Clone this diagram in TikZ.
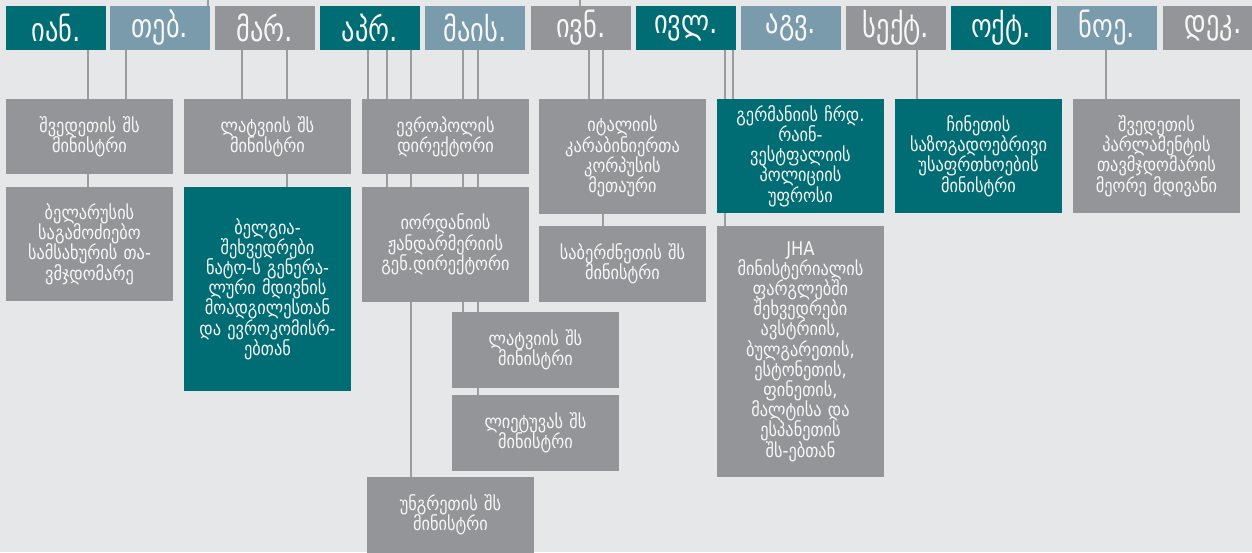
\documentclass[tikz,border=0pt]{standalone}
\usepackage{fontspec}
\setmainfont{DejaVu Sans}[FakeStretch=0.86]
\newfontfamily\monthfont{DejaVu Sans}[FakeStretch=0.8]
\newcommand{\boxfontsel}{\fontsize{19}{20.2}\selectfont\lineskiplimit=-30pt\relax\lineskip=0pt\relax}
\definecolor{bgc}{HTML}{E6E7E9}
\definecolor{teal}{HTML}{006D74}
\definecolor{bluegr}{HTML}{7A9BAC}
\definecolor{greyb}{HTML}{939598}
\definecolor{linec}{HTML}{9B9C9F}
\definecolor{txt}{HTML}{F7F7F7}
\pgfdeclarelayer{bottom}
\pgfdeclarelayer{background}
\pgfsetlayers{bottom,background,main}
\tikzset{
  month/.style={inner sep=0pt, minimum width=100pt, minimum height=44pt, text=txt,
    font=\monthfont\fontsize{33}{36}\selectfont},
  mteal/.style={month, fill=teal},
  mblue/.style={month, fill=bluegr},
  mgrey/.style={month, fill=greyb},
  box/.style={inner sep=0pt, minimum width=167pt, text width=164pt, align=center, text=txt,
    font=\boxfontsel},
  gbox/.style={box, fill=greyb},
  tbox/.style={box, fill=teal},
  conn/.style={draw=linec, line width=2.6pt}
}
\begin{document}
\begin{tikzpicture}[x=1pt,y=-1pt]
\begin{pgfonlayer}{bottom}
\fill[bgc] (0,0) rectangle (1252,552);
\end{pgfonlayer}
\useasboundingbox (0,0) rectangle (1252,552);
% months
\node[mteal] (m1) at (56,28) {იან.};
\node[mblue] (m2) at (160,28) {თებ.};
\node[mgrey] (m3) at (265,28) {მარ.};
\node[mteal] (m4) at (370,28) {აპრ.};
\node[mblue] (m5) at (475,28) {მაის.};
\node[mgrey] (m6) at (581,28) {ივნ.};
\node[mteal] (m7) at (686,28) {ივლ.};
\node[mblue] (m8) at (791,28) {აგვ.};
\node[mgrey] (m9) at (896,28) {სექტ.};
\node[mteal] (m10) at (1001,28) {ოქტ.};
\node[mblue] (m11) at (1107,28) {ნოე.};
\node[mgrey] (m12) at (1213,28) {დეკ.};
% boxes
\node[gbox, minimum height=75pt] (a1) at (89.5,136.5) {შვედეთის შს\\მინისტრი};
\node[gbox, minimum height=114pt] (a2) at (89.5,244) {ბელარუსის\\საგამოძიებო\\სამსახურის თა-\\ვმჯდომარე};
\node[gbox, minimum height=75pt] (b1) at (267.5,136.5) {ლატვიის შს\\მინისტრი};
\node[tbox, minimum height=204pt] (b2) at (267.5,289) {ბელგია-\\შეხვედრები\\ნატო-ს გენერა-\\ლური მდივნის\\მოადგილესთან\\და ევროკომისრ-\\ებთან};
\node[gbox, minimum height=75pt] (c1) at (445.5,136.5) {ევროპოლის\\დირექტორი};
\node[gbox, minimum height=115pt] (c2) at (445.5,244.5) {იორდანიის\\ჟანდარმერიის\\გენ.დირექტორი};
\node[gbox, minimum height=76pt] (c3) at (535.5,350) {ლატვიის შს\\მინისტრი};
\node[gbox, minimum height=76pt] (c4) at (535.5,433) {ლიეტუვას შს\\მინისტრი};
\node[gbox, minimum height=76pt] (c5) at (450.5,515) {უნგრეთის შს\\მინისტრი};
\node[gbox, minimum height=115pt] (d1) at (622.5,156.5) {იტალიის\\კარაბინიერთა\\კორპუსის\\მეთაური};
\node[gbox, minimum height=76pt] (d2) at (622.5,264) {საბერძნეთის შს\\მინისტრი};
\node[tbox, minimum height=114pt] (e1) at (800.5,156) {გერმანიის ჩრდ.\\რაინ-\\ვესტფალიის\\პოლიციის\\უფროსი};
\node[gbox, minimum height=251pt] (e2) at (800.5,351.5) {JHA\\მინისტერიალის\\ფარგლებში\\შეხვედრები\\ავსტრიის,\\ბულგარეთის,\\ესტონეთის,\\ფინეთის,\\მალტისა და\\ესპანეთის\\შს-ებთან};
\node[tbox, minimum height=114pt] (f1) at (978.5,156) {ჩინეთის\\საზოგადოებრივი\\უსაფრთხოების\\მინისტრი};
\node[gbox, minimum height=114pt] (g1) at (1156.5,156) {შვედეთის\\პარლამენტის\\თავმჯდომარის\\მეორე მდივანი};
% top stubs
\coordinate (t1) at (208,0);
\coordinate (t2) at (580,0);
% connectors
\begin{pgfonlayer}{background}
\draw[conn] (t1) -- (t1 |- m2.north);
\draw[conn] (t2) -- (t2 |- m6.north);
\draw[conn] (m1.south -| 88,0) -- (a2.north -| 88,0);
\draw[conn] (m2.south -| 126,0) -- (a1.north -| 126,0);
\draw[conn] (m3.south -| 242,0) -- (b1.north -| 242,0);
\draw[conn] (m3.south -| 287,0) -- (b2.north -| 287,0);
\draw[conn] (m4.south -| 368,0) -- (c1.north -| 368,0);
\draw[conn] (m4.south -| 387,0) -- (c2.north -| 387,0);
\draw[conn] (m4.south -| 411,0) -- (c5.north -| 411,0);
\draw[conn] (m5.south -| 463,0) -- (c3.north -| 463,0);
\draw[conn] (m5.south -| 478,0) -- (c4.north -| 478,0);
\draw[conn] (m6.south -| 589,0) -- (d1.north -| 589,0);
\draw[conn] (m6.south -| 603,0) -- (d2.north -| 603,0);
\draw[conn] (m7.south -| 725,0) -- (e2.north -| 725,0);
\draw[conn] (m7.south -| 733,0) -- (e1.north -| 733,0);
\draw[conn] (m9.south -| 917,0) -- (f1.north -| 917,0);
\draw[conn] (m11.south -| 1106,0) -- (g1.north -| 1106,0);
\end{pgfonlayer}
\end{tikzpicture}
\end{document}
